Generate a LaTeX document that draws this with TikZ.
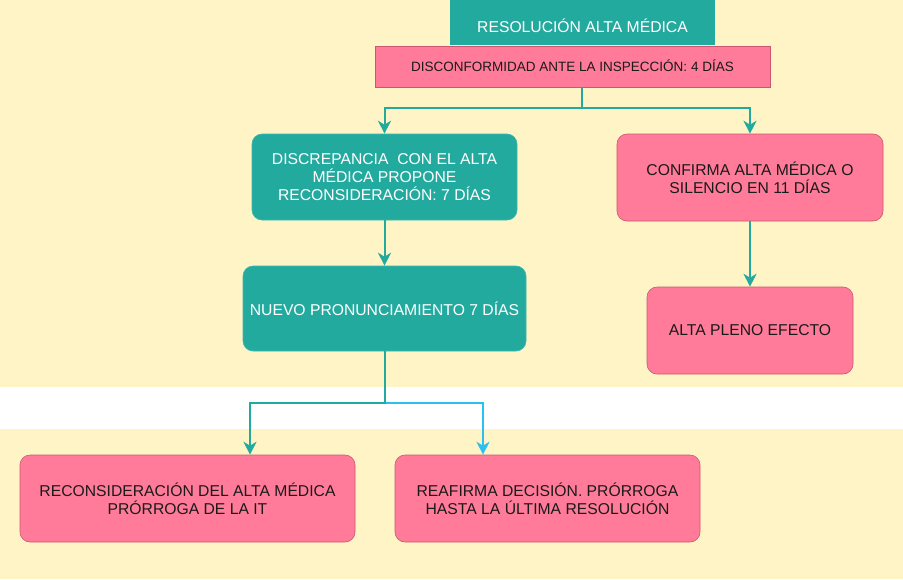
\documentclass[tikz,border=0pt]{standalone}
\usepackage{fontspec}
\setmainfont{Liberation Sans}
\usetikzlibrary{arrows.meta}
\definecolor{cream}{HTML}{FFF4C6}
\definecolor{teal1}{HTML}{23AA9F}
\definecolor{tealline}{HTML}{3CB8AE}
\definecolor{pink1}{HTML}{FF7B99}
\definecolor{pinkline}{HTML}{C9576F}
\definecolor{blue1}{HTML}{2BC0F2}
\definecolor{txt}{HTML}{1A1A1A}
\tikzset{
  tealbox/.style={draw=tealline, line width=0.6pt, fill=teal1, text=white, rounded corners=10pt, align=center, inner sep=0pt, font=\fontsize{15.7}{18}\selectfont},
  pinkbox/.style={draw=pinkline, line width=0.6pt, fill=pink1, text=txt, rounded corners=10pt, align=center, inner sep=0pt, font=\fontsize{15.7}{18}\selectfont},
  conn/.style={draw=teal1, line width=2pt, -{Stealth[length=13pt,width=13pt,inset=4pt]}},
  connb/.style={draw=blue1, line width=2pt, -{Stealth[length=13pt,width=13pt,inset=4pt]}},
}
\begin{document}
\begin{tikzpicture}[x=1pt,y=-1pt]
\useasboundingbox (0,0) rectangle (903,579);
\fill[cream] (0,0) rectangle (903,387);
\fill[white] (0,387) rectangle (903,429);
\fill[cream] (0,429) rectangle (903,579);

\node[fill=teal1, text=white, minimum width=265pt, minimum height=45pt, inner sep=0pt, text height=20pt, text depth=0pt, font=\fontsize{15.7}{18}\selectfont] (title) at (582.5,22.5) {RESOLUCIÓN ALTA MÉDICA};
\node[fill=pink1, draw=pinkline, line width=0.6pt, text=txt, minimum width=395pt, minimum height=41pt, inner sep=0pt, text height=10pt, text depth=0pt, font=\fontsize{13.5}{16}\selectfont] (disc) at (572.5,66.5) {DISCONFORMIDAD ANTE LA INSPECCIÓN: 4 DÍAS};

\node[tealbox, minimum width=265pt, minimum height=86pt] (discr) at (384.5,177) {DISCREPANCIA\ \ CON EL ALTA\\MÉDICA PROPONE\\RECONSIDERACIÓN: 7 DÍAS};
\node[tealbox, minimum width=283pt, minimum height=85pt] (nuevo) at (384.5,308.5) {NUEVO PRONUNCIAMIENTO 7 DÍAS};

\node[pinkbox, minimum width=266pt, minimum height=87pt] (conf) at (750,177.5) {CONFIRMA ALTA MÉDICA O\\SILENCIO EN 11 DÍAS};
\node[pinkbox, minimum width=206pt, minimum height=87pt] (alta) at (750,330.5) {ALTA PLENO EFECTO};

\node[pinkbox, minimum width=335pt, minimum height=87pt] (recon) at (187.5,498.5) {RECONSIDERACIÓN DEL ALTA MÉDICA\\PRÓRROGA DE LA IT};
\node[pinkbox, minimum width=305pt, minimum height=87pt] (reaf) at (547.5,498.5) {REAFIRMA DECISIÓN. PRÓRROGA\\HASTA LA ÚLTIMA RESOLUCIÓN};

\draw[conn] ([xshift=9.5pt]disc.south) -- ([xshift=9.5pt,yshift=-21pt]disc.south) -| (discr.north);
\draw[conn] ([xshift=9.5pt,yshift=-21pt]disc.south) -| (conf.north);
\draw[conn] (discr.south) -- (nuevo.north);
\draw[conn] (conf.south) -- (alta.north);
\draw[connb] ([yshift=-52pt]nuevo.south) -| ([xshift=-64.5pt]reaf.north);
\draw[conn] (nuevo.south) -- ([yshift=-52pt]nuevo.south) -| ([xshift=62.5pt]recon.north);
\end{tikzpicture}
\end{document}
